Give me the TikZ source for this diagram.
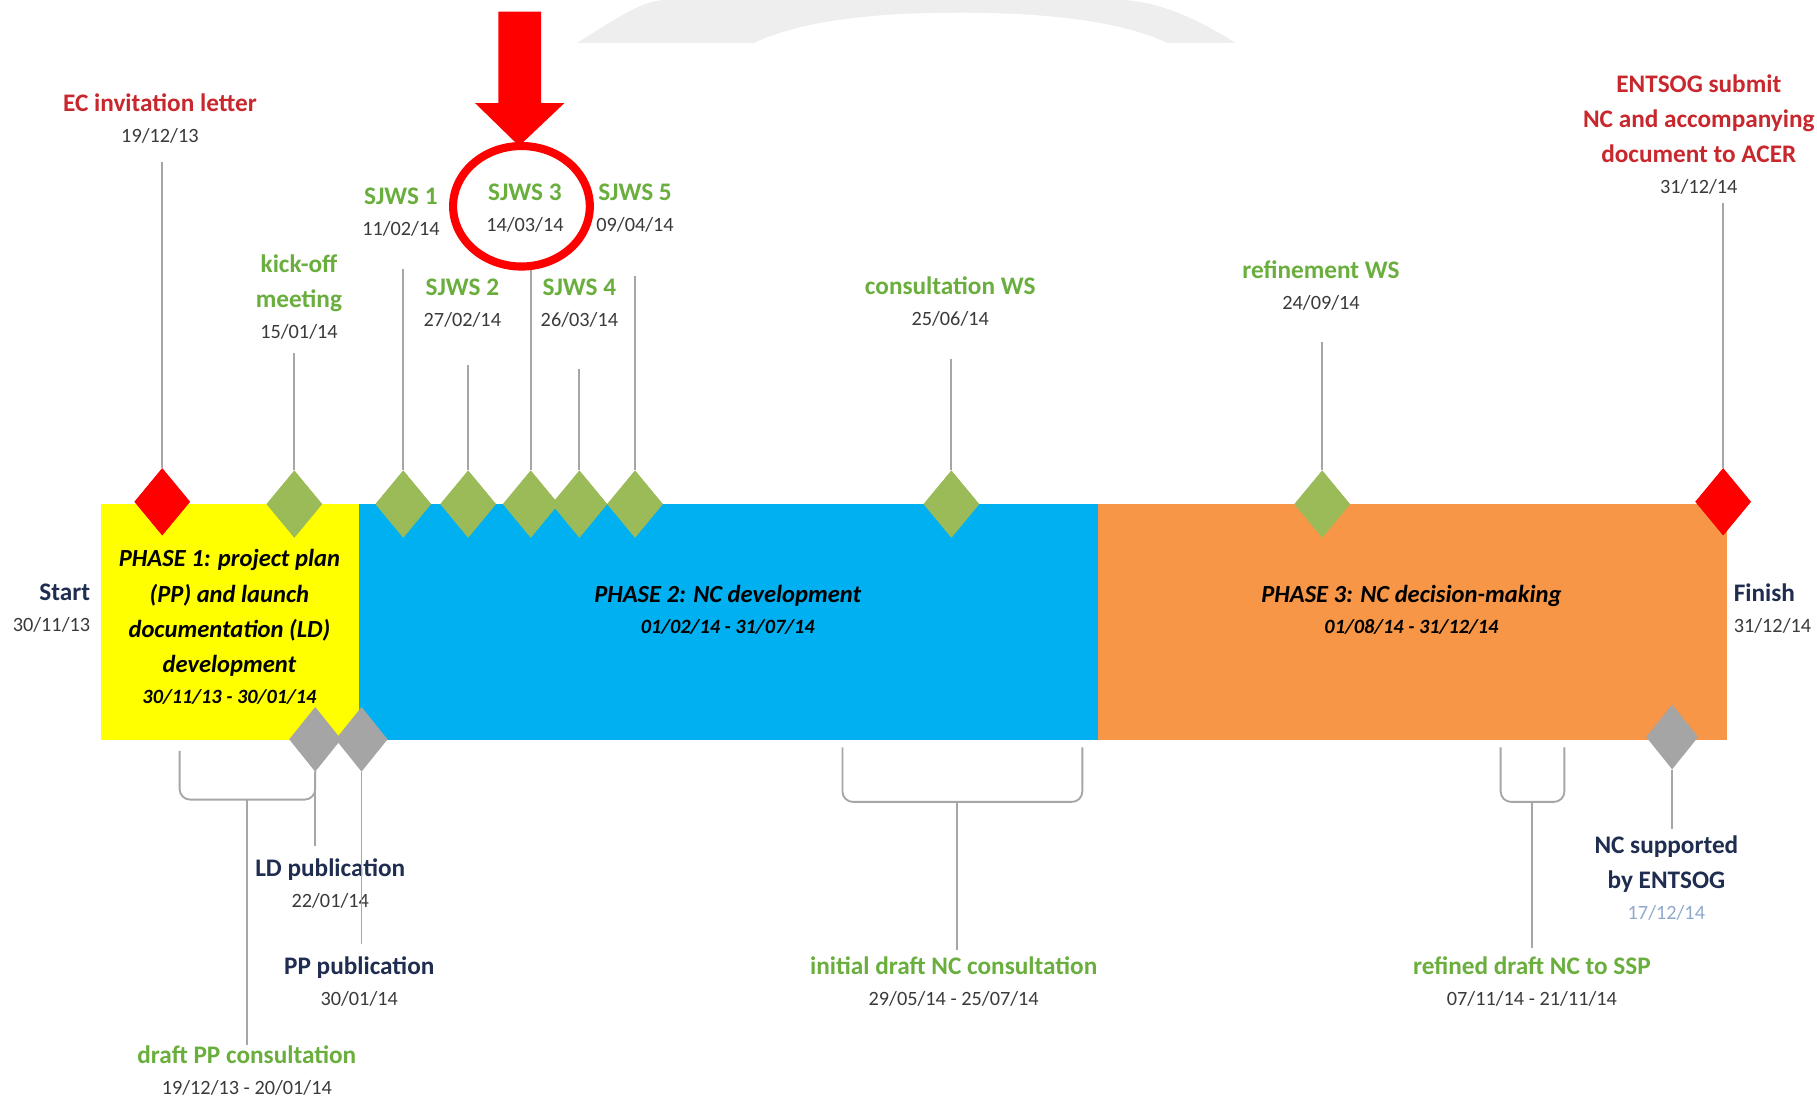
\documentclass[tikz,border=0pt]{standalone}
\usepackage{fontspec}
\setmainfont{Carlito}
\usetikzlibrary{shapes.geometric}
\definecolor{ttred}{HTML}{C8282D}
\definecolor{ttgreen}{HTML}{6AAE3E}
\definecolor{ttnavy}{HTML}{1F2D50}
\definecolor{dategray}{HTML}{3A3A3A}
\definecolor{lightdate}{HTML}{8FA9CC}
\definecolor{dgreen}{HTML}{9BBB59}
\definecolor{dgray}{HTML}{A5A5A5}
\definecolor{dred}{HTML}{FF0000}
\definecolor{ph1c}{HTML}{FFFF00}
\definecolor{ph2c}{HTML}{00B0F0}
\definecolor{ph3c}{HTML}{F79646}
\definecolor{lineg}{HTML}{A6A6A6}
\definecolor{wmark}{HTML}{EEEEEE}
\newcommand\mydate[1]{{\fontsize{17.5}{22}\selectfont\mdseries\color{dategray}#1}}
\newcommand\mydatel[1]{{\fontsize{17.5}{22}\selectfont\mdseries\color{lightdate}#1}}
\begin{document}
\begin{tikzpicture}[x=1pt,y=-1pt,
  conn/.style={draw=lineg, line width=1.6},
  dia/.style={diamond, inner sep=0pt, minimum width=48, minimum height=58},
  gdia/.style={dia, fill=dgreen},
  rdia/.style={dia, fill=dred},
  ydia/.style={diamond, inner sep=0pt, minimum width=45, minimum height=56, fill=dgray},
  lab/.style={align=center, inner sep=0pt, font=\fontsize{21.8}{30}\selectfont\bfseries},
  bar/.style={anchor=north west, inner sep=0pt, minimum height=203},
  ptext/.style={align=center, inner sep=0pt, font=\fontsize{21.2}{30.5}\selectfont\bfseries\itshape, text=black}
]
\useasboundingbox (0,0) rectangle (1568,950);
\fill[white] (0,0) rectangle (1568,950);
% faint watermark at the top
\fill[wmark] (498,37) .. controls (535,14) and (555,0) .. (575,0) -- (965,0)
  .. controls (995,0) and (1030,14) .. (1066,37) -- cycle;
\fill[white] (651,37) .. controls (700,14) and (775,11) .. (829,11)
  .. controls (885,11) and (960,15) .. (1007,37) -- cycle;

% phase bars
\node[bar, fill=ph1c, minimum width=223] (ph1) at (87,435) {};
\node[bar, fill=ph2c, minimum width=637] (ph2) at (310,435) {};
\node[bar, fill=ph3c, minimum width=543] (ph3) at (947,435) {};

\node[ptext] (p1t) at (198,541) {PHASE 1: project plan\\(PP) and launch\\documentation (LD)\\development\\[-4pt]{\fontsize{17.5}{22}\selectfont 30/11/13 - 30/01/14}};
\node[ptext] (p2t) at (628,526) {PHASE 2: NC development\\[-4pt]{\fontsize{17.5}{22}\selectfont 01/02/14 - 31/07/14}};
\node[ptext] (p3t) at (1218,526) {PHASE 3: NC decision-making\\[-4pt]{\fontsize{17.5}{22}\selectfont 01/08/14 - 31/12/14}};

\node[lab, align=right, anchor=east, text=ttnavy] (start) at (78,525) {Start\\[-3pt]\mydate{30/11/13}};
\node[lab, align=left, anchor=west, text=ttnavy] (finish) at (1496,525) {Finish\\[-3pt]\mydate{31/12/14}};

% top milestones
\node[rdia] (dec) at (140,433) {};
\node[gdia] (dko) at (254,435) {};
\node[gdia] (ds1) at (348,435) {};
\node[gdia] (ds2) at (404,435) {};
\node[gdia] (ds3) at (458,435) {};
\node[gdia] (ds4) at (500,435) {};
\node[gdia] (ds5) at (548,435) {};
\node[gdia] (dcw) at (821,435) {};
\node[gdia] (drw) at (1141,435) {};
\node[rdia] (den) at (1487,433) {};

\node[lab, anchor=south, text=ttred] (lec) at (138,124) {EC invitation letter\\[-3pt]\mydate{19/12/13}};
\node[lab, anchor=south, text=ttgreen] (lko) at (258,293) {kick-off\\meeting\\[-3pt]\mydate{15/01/14}};
\node[lab, anchor=south, text=ttgreen] (ls1) at (346,204) {SJWS 1\\[-3pt]\mydate{11/02/14}};
\node[lab, anchor=south, text=ttgreen] (ls2) at (399,283) {SJWS 2\\[-3pt]\mydate{27/02/14}};
\node[lab, anchor=south, text=ttgreen] (ls3) at (453,201) {SJWS 3\\[-3pt]\mydate{14/03/14}};
\node[lab, anchor=south, text=ttgreen] (ls4) at (500,283) {SJWS 4\\[-3pt]\mydate{26/03/14}};
\node[lab, anchor=south, text=ttgreen] (ls5) at (548,201) {SJWS 5\\[-3pt]\mydate{09/04/14}};
\node[lab, anchor=south, text=ttgreen] (lcw) at (820,282) {consultation WS\\[-3pt]\mydate{25/06/14}};
\node[lab, anchor=south, text=ttgreen] (lrw) at (1140,268) {refinement WS\\[-3pt]\mydate{24/09/14}};
\node[lab, anchor=south, text=ttred] (len) at (1466,168) {ENTSOG submit\\NC and accompanying\\document to ACER\\[-3pt]\mydate{31/12/14}};

\draw[conn, shorten <=16] (dec.north |- lec.south) -- (dec.north);
\draw[conn, shorten <=12] (dko.north |- lko.south) -- (dko.north);
\draw[conn, shorten <=28] (ds1.north |- ls1.south) -- (ds1.north);
\draw[conn, shorten <=32] (ds2.north |- ls2.south) -- (ds2.north);
\draw[conn, shorten <=31] (ds3.north |- ls3.south) -- (ds3.north);
\draw[conn, shorten <=35] (ds4.north |- ls4.south) -- (ds4.north);
\draw[conn, shorten <=37] (ds5.north |- ls5.south) -- (ds5.north);
\draw[conn, shorten <=28] (dcw.north |- lcw.south) -- (dcw.north);
\draw[conn, shorten <=27] (drw.north |- lrw.south) -- (drw.north);
\draw[conn, shorten <=7] (den.north |- len.south) -- (den.north);

% redraw diamonds above their connectors
\node[rdia] at (dec) {};
\node[gdia] at (dko) {};
\node[gdia] at (ds1) {};
\node[gdia] at (ds2) {};
\node[gdia] at (ds3) {};
\node[gdia] at (ds4) {};
\node[gdia] at (ds5) {};
\node[gdia] at (dcw) {};
\node[gdia] at (drw) {};
\node[rdia] at (den) {};

% bottom milestones
\node[ydia] (gld) at (272,638) {};
\node[ydia] (gpp) at (312,638) {};
\node[ydia] (gns) at (1443,636) {};

\node[lab, anchor=north, text=ttnavy] (lld) at (285,741) {LD publication\\[-3pt]\mydate{22/01/14}};
\node[lab, anchor=north, text=ttnavy] (lpp) at (310,825) {PP publication\\[-3pt]\mydate{30/01/14}};
\node[lab, anchor=north, text=ttnavy] (lns) at (1438,721) {NC supported\\by ENTSOG\\[-3pt]\mydatel{17/12/14}};
\node[lab, anchor=north, text=ttgreen] (ldp) at (213,902) {draft PP consultation\\[-3pt]\mydate{19/12/13 - 20/01/14}};
\node[lab, anchor=north, text=ttgreen] (lid) at (823,825) {initial draft NC consultation\\[-3pt]\mydate{29/05/14 - 25/07/14}};
\node[lab, anchor=north, text=ttgreen] (lrd) at (1322,825) {refined draft NC to SSP\\[-3pt]\mydate{07/11/14 - 21/11/14}};

\draw[conn, shorten >=11] (gld.south) -- (gld.south |- lld.north);
\draw[conn, shorten >=10] (gpp.south) -- (gpp.south |- lpp.north);
\draw[conn, shorten >=6] (gns.south) -- (gns.south |- lns.north);

% brackets
\coordinate (b1a) at (155,648);
\coordinate (b1m) at (213,690);
\coordinate (b1b) at (272,664);
\coordinate (b2a) at (727,645);
\coordinate (b2m) at (826,692);
\coordinate (b2b) at (934,645);
\coordinate (b3a) at (1295,645);
\coordinate (b3m) at (1322,692);
\coordinate (b3b) at (1350,645);
\draw[conn, rounded corners=9] (b1a) |- (b1m) -| (b1b);
\draw[conn, rounded corners=9] (b2a) |- (b2m) -| (b2b);
\draw[conn, rounded corners=9] (b3a) |- (b3m) -| (b3b);
\draw[conn] (b1m) -- (b1m |- ldp.north);
\draw[conn, shorten >=5] (b2m) -- (b2m |- lid.north);
\draw[conn, shorten >=7] (b3m) -- (b3m |- lrd.north);

% red highlight arrow and circle
\fill[dred] (430,10) -- (467,10) -- (467,89) -- (487,89) -- (448,126) -- (410,89) -- (430,89) -- cycle;
\node[ellipse, draw=dred, line width=7, minimum width=118, minimum height=104, inner sep=0pt] (hl) at (450,178) {};
\end{tikzpicture}
\end{document}
